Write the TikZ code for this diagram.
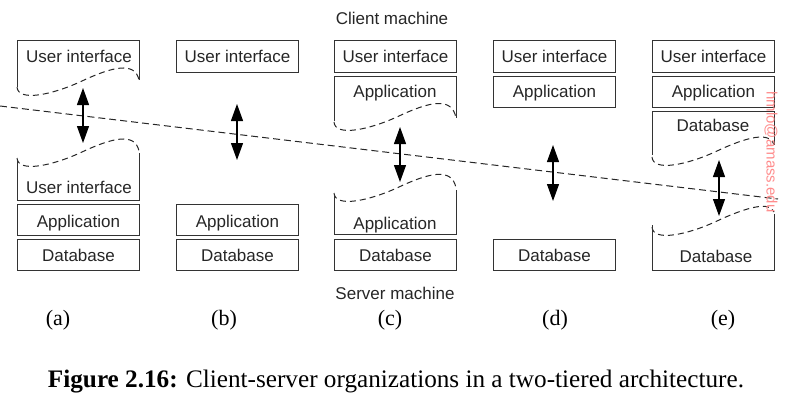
\documentclass[tikz,border=0pt]{standalone}
\usepackage{fontspec}
\newfontfamily\dsans{Liberation Sans}
\newfontfamily\dserif{Liberation Serif}
\usetikzlibrary{arrows.meta}
\newcommand\wavy[3]{\draw[wave] (#1,#2) .. controls (#1+1,#2+15) and (#1+35,#2+8) .. (#1+65,#2-6) .. controls (#1+95,#2-20) and (#1+118,#2-26) .. (#1+122,#3);}
\tikzset{
 lbl/.style={font=\dsans\fontsize{17}{17}\selectfont, text=black!85, inner sep=0, text height=12pt, text depth=0pt},
 boxs/.style={draw=black!80, line width=0.9pt, minimum width=122pt, minimum height=31pt, inner sep=0, anchor=north west, lbl},
 lowapp/.style={text height=16pt},
 lowdb/.style={text height=14pt},
 side/.style={draw=black!80, line width=0.9pt},
 wave/.style={draw=black!85, line width=1pt, dash pattern=on 6pt off 4pt},
 dbl/.style={line width=1.2pt, {Triangle[length=17pt,width=12pt]}-{Triangle[length=17pt,width=12pt]}},
 cut/.style={draw=black!85, line width=1pt, dash pattern=on 7pt off 4pt},
 sub/.style={font=\dserif\fontsize{22}{22}\selectfont, inner sep=0},
 wm/.style={font=\dsans\fontsize{15}{15}\selectfont, text=red!45, rotate=-90, inner sep=0}
}
\begin{document}
\begin{tikzpicture}[x=1pt,y=-1pt]
\useasboundingbox (0,0) rectangle (792,407);
% titles
\node[lbl] (client) at (392,18) {Client machine};
\node[lbl] (server) at (395,293) {Server machine};
% dividing line
\coordinate (cutL) at (0,106);
\coordinate (cutR) at (778,199);
\draw[cut] (cutL) -- (cutR);
% ---------- (a)
\draw[side] (17,87) -- (17,40) -- (139,40) -- (139,80);
\wavy{17}{87}{80}
\node[lbl] (a-ui) at (79,56) {User interface};
\wavy{17}{158}{151}
\draw[side] (17,160) -- (17,200) -- (139,200) -- (139,153);
\node[lbl] (a-ui2) at (79,187) {User interface};
\node[boxs, lowapp] (a-app) at (17,204) {Application};
\node[boxs, lowdb] (a-db) at (17,239) {Database};
\coordinate (a-t) at (83,88);
\coordinate (a-b) at (83,143);
\draw[dbl] (a-t) -- (a-b);
% ---------- (b)
\node[boxs, minimum height=32pt] (b-ui) at (176,40) {User interface};
\node[boxs, lowapp] (b-app) at (176,204) {Application};
\node[boxs, lowdb] (b-db) at (176,239) {Database};
\coordinate (b-t) at (237,104);
\coordinate (b-b) at (237,160);
\draw[dbl] (b-t) -- (b-b);
% ---------- (c)
\node[boxs, minimum height=32pt] (c-ui) at (334,40) {User interface};
\draw[side] (334,121) -- (334,76) -- (456,76) -- (456,118);
\wavy{334}{122}{118}
\node[lbl] (c-app) at (395,91) {Application};
\wavy{334}{193}{188}
\draw[side] (334,195) -- (334,234) -- (456,234) -- (456,190);
\node[lbl] (c-app2) at (395,223) {Application};
\node[boxs, lowdb] (c-db) at (334,239) {Database};
\coordinate (c-t) at (400,127);
\coordinate (c-b) at (400,182);
\draw[dbl] (c-t) -- (c-b);
% ---------- (d)
\node[boxs, minimum height=32pt] (d-ui) at (493,40) {User interface};
\node[boxs] (d-app) at (493,76) {Application};
\node[boxs, lowdb] (d-db) at (493,239) {Database};
\coordinate (d-t) at (553,145);
\coordinate (d-b) at (553,201);
\draw[dbl] (d-t) -- (d-b);
% ---------- (e)
\node[boxs, minimum height=32pt] (e-ui) at (652,40) {User interface};
\node[boxs, minimum height=31pt] (e-app) at (652,76) {Application};
\draw[side] (652,155) -- (652,111) -- (774,111) -- (774,145);
\wavy{652}{157}{145}
\node[lbl] (e-db) at (713,125) {Database};
\wavy{652}{227}{212}
\draw[side] (652,225) -- (652,270) -- (774,270) -- (774,214);
\node[lbl] (e-db2) at (716,256) {Database};
\coordinate (e-t) at (719,160);
\coordinate (e-b) at (719,216);
\draw[dbl] (e-t) -- (e-b);
% sub labels
\node[sub] (la) at (58,320) {(a)};
\node[sub] (lb) at (224,320) {(b)};
\node[sub] (lc) at (390,320) {(c)};
\node[sub] (ld) at (555,320) {(d)};
\node[sub] (le) at (723,320) {(e)};
% caption
\node[sub, font=\dserif\fontsize{25.2}{25.2}\selectfont] (cap) at (396,382) {\textbf{Figure 2.16:} Client-server organizations in a two-tiered architecture.};
% watermark
\node[wm] (wmk) at (771,152) {hmlo@amass.edu};
\end{tikzpicture}
\end{document}
